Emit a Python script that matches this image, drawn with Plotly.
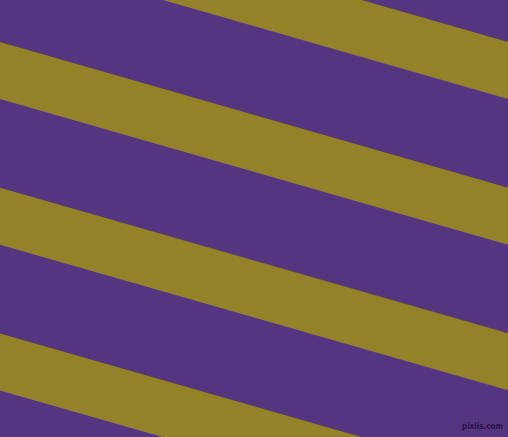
import math
import plotly.graph_objects as go

# ---------- Data ----------
width_px = 508
height_px = 437
band_tops = [-103.7, 42.0, 187.7, 333.4]   # top edge of each stripe at x=0
band_height = 57.0                          # vertical thickness of a stripe
angle_deg = 16.0
purple = "rgb(85,53,128)"
olive = "rgb(148,130,40)"

slope = math.tan(math.radians(angle_deg))

fig = go.Figure()

# ---------- Stripes ----------
for b in band_tops:
    xs = [0, width_px, width_px, 0, 0]
    ys = [b, b + slope * width_px, b + band_height + slope * width_px, b + band_height, b]
    fig.add_trace(go.Scatter(
        x=xs, y=ys,
        mode="lines",
        fill="toself",
        fillcolor=olive,
        line=dict(width=0, color=olive),
        hoverinfo="skip",
        showlegend=False,
    ))

# ---------- Watermark ----------
fig.add_annotation(
    x=width_px - 3, y=height_px - 4,
    xref="x", yref="y",
    xanchor="right", yanchor="bottom",
    text="<b>pixlis.com</b>",
    showarrow=False,
    font=dict(family="DejaVu Sans Condensed", size=8, color="rgb(40,20,70)"),
)

fig.update_layout(
    width=width_px,
    height=height_px,
    margin=dict(l=0, r=0, t=0, b=0),
    paper_bgcolor=purple,
    plot_bgcolor=purple,
    showlegend=False,
    xaxis=dict(range=[0, width_px], visible=False, fixedrange=True),
    yaxis=dict(range=[height_px, 0], visible=False, fixedrange=True),
)

# body has an 8px default margin; drop it so the figure fills the window
fig.write_html(
    "out.html",
    config={"displayModeBar": False},
    post_script="document.body.style.margin='0';document.body.style.overflow='hidden';",
)
